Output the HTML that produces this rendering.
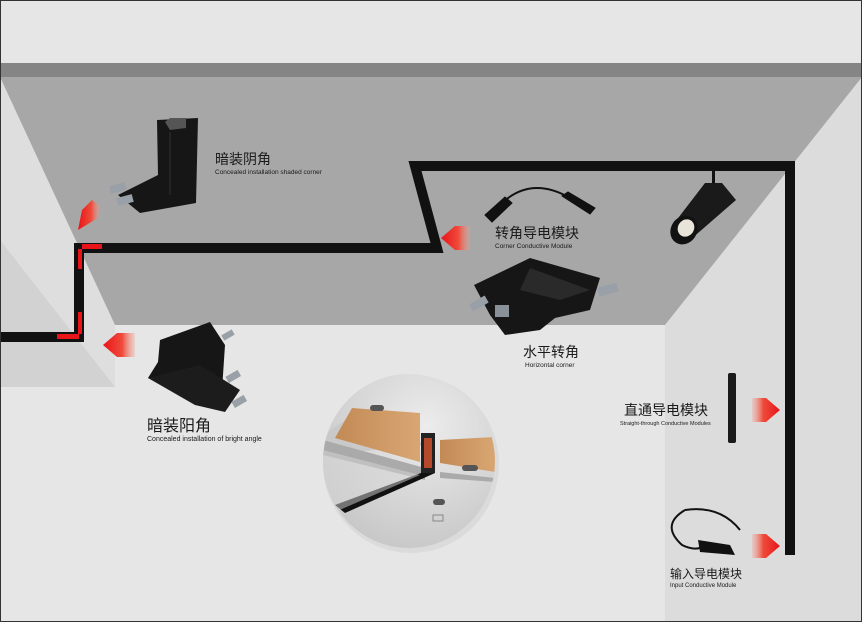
<!DOCTYPE html>
<html><head><meta charset="utf-8"><style>
html,body{margin:0;padding:0;background:#fff}
svg{display:block}
text{font-family:"Liberation Sans","Noto Sans CJK SC",sans-serif;fill:#1a1a1a}
</style></head><body>
<svg width="862" height="622" viewBox="0 0 862 622" xmlns="http://www.w3.org/2000/svg">
<defs>
<linearGradient id="ar" x1="0" x2="1"><stop offset="0" stop-color="#e8141a"/><stop offset="0.6" stop-color="#f04a3a"/><stop offset="1" stop-color="#f3a090" stop-opacity="0.3"/></linearGradient>
<linearGradient id="arR" x1="1" x2="0"><stop offset="0" stop-color="#e8141a"/><stop offset="0.6" stop-color="#f04a3a"/><stop offset="1" stop-color="#f3a090" stop-opacity="0.3"/></linearGradient>
<radialGradient id="cg" cx="0.6" cy="0.3" r="0.8"><stop offset="0" stop-color="#ececec"/><stop offset="1" stop-color="#c4c4c4"/></radialGradient>
<linearGradient id="wood" x1="0" x2="1"><stop offset="0" stop-color="#c28a55"/><stop offset="1" stop-color="#d9a673"/></linearGradient>
<clipPath id="cc"><ellipse cx="409" cy="461" rx="86" ry="87"/></clipPath>
</defs>
<rect width="862" height="622" fill="#e6e6e6"/>
<!-- right wall -->
<polygon points="665,325 862,77 862,622 665,622" fill="#dcdcdc"/>
<!-- left wall -->
<polygon points="0,77 115,325 115,387 0,387" fill="#dedede"/>
<polygon points="0,240 115,387 0,387" fill="#d2d2d2"/>
<!-- ceiling -->
<polygon points="0,77 862,77 665,325 115,325" fill="#a7a7a7"/>
<rect x="0" y="63" width="862" height="14" fill="#858586"/>
<!-- black track line -->
<polyline points="0,337 79,337 79,248 437,248 415,166 790,166 790,555" fill="none" stroke="#111" stroke-width="10" stroke-linejoin="miter"/>
<!-- red dashes -->
<g fill="#e8141a">
<rect x="82" y="244" width="20" height="5"/>
<rect x="78" y="249" width="4" height="20"/>
<rect x="78" y="312" width="4" height="22"/>
<rect x="57" y="334" width="22" height="5"/>
</g>
<!-- arrows -->
<polygon points="78,230 82,210 92,200 100,206 98,218" fill="url(#ar)"/>
<polygon points="441,238 455,226 470,226 470,250 455,250" fill="url(#ar)"/>
<polygon points="103,345 117,333 135,333 135,357 117,357" fill="url(#ar)"/>
<polygon points="780,410 766,398 752,398 752,422 766,422" fill="url(#arR)"/>
<polygon points="780,546 766,534 752,534 752,558 766,558" fill="url(#arR)"/>
<!-- concealed shaded corner product -->
<g>
<polygon points="157,120 198,118 196,203 140,213 118,195 158,175" fill="#161616"/>
<polygon points="165,122 170,118 186,118 186,128 170,130" fill="#555"/>
<rect x="110" y="184" width="16" height="8" fill="#9aa0a8" transform="rotate(-15 118 188)"/>
<rect x="117" y="196" width="16" height="8" fill="#9aa0a8" transform="rotate(-15 125 200)"/>
<line x1="170" y1="132" x2="170" y2="195" stroke="#333" stroke-width="1"/>
</g>
<text x="215" y="164" font-size="14">暗装阴角</text>
<text x="215" y="174" font-size="6.5" fill="#333">Concealed installation shaded corner</text>
<!-- corner conductive module -->
<g stroke="#111" fill="#111">
<path d="M500,205 Q530,175 570,198" fill="none" stroke-width="2"/>
<polygon points="485,215 505,197 512,203 492,222" />
<polygon points="562,196 568,192 595,208 590,214"/>
</g>
<text x="495" y="238" font-size="14">转角导电模块</text>
<text x="495" y="248" font-size="6.5" fill="#333">Corner Conductive Module</text>
<!-- spotlight -->
<g>
<rect x="712" y="170" width="3" height="14" fill="#111"/>
<polygon points="705,183 722,183 736,200 690,240 672,226" fill="#1a1a1a"/>
<ellipse cx="684" cy="230" rx="13" ry="15" fill="#111" transform="rotate(35 684 230)"/>
<ellipse cx="686" cy="228" rx="8" ry="9" fill="#e8e4da" transform="rotate(35 686 228)"/>
</g>
<!-- horizontal corner -->
<g>
<polygon points="474,285 530,258 600,278 590,310 555,318 540,330 505,335 490,315" fill="#161616"/>
<polygon points="530,268 590,290 560,300 520,290" fill="#2a2a2a"/>
<rect x="598" y="285" width="20" height="9" fill="#9aa0a8" transform="rotate(-15 608 290)"/>
<rect x="470" y="300" width="18" height="8" fill="#9aa0a8" transform="rotate(-30 478 304)"/>
<rect x="495" y="305" width="14" height="12" fill="#8a9098"/>
</g>
<text x="523" y="357" font-size="14">水平转角</text>
<text x="525" y="367" font-size="6.5" fill="#333">Horizontal corner</text>
<!-- concealed bright angle -->
<g>
<polygon points="160,340 210,322 225,345 222,390 200,405 180,390 148,378 158,362" fill="#161616"/>
<polygon points="148,378 200,365 240,390 225,412 195,405" fill="#1c1c1c"/>
<rect x="222" y="332" width="12" height="6" fill="#9aa0a8" transform="rotate(-30 228 335)"/>
<rect x="226" y="373" width="14" height="7" fill="#9aa0a8" transform="rotate(-30 233 376)"/>
<rect x="232" y="398" width="14" height="7" fill="#9aa0a8" transform="rotate(-30 239 401)"/>
</g>
<text x="147" y="431" font-size="16">暗装阳角</text>
<text x="147" y="441" font-size="7" fill="#333">Concealed installation of bright angle</text>
<!-- circle detail -->
<ellipse cx="411" cy="464" rx="88" ry="89" fill="#cfcfcf" opacity="0.5"/>
<ellipse cx="409" cy="461" rx="86" ry="87" fill="url(#cg)"/>
<g clip-path="url(#cc)">
<polygon points="323,435 360,410 425,445 325,455" fill="#c9c9c9"/>
<polygon points="352,408 420,413 420,462 335,438" fill="url(#wood)"/>
<polygon points="440,440 495,437 495,472 440,463" fill="url(#wood)"/>
<polygon points="323,440 425,468 425,480 323,455" fill="#aaa"/>
<polygon points="440,472 495,478 495,482 440,478" fill="#aaa"/>
<rect x="421" y="433" width="14" height="40" fill="#222"/>
<rect x="424" y="438" width="8" height="30" fill="#b44a2a"/>
<polygon points="421,473 435,473 345,513 335,505" fill="#111"/>
<polygon points="323,450 420,475 335,512 323,500" fill="#d6d6d6" opacity="0.5"/>
<rect x="370" y="405" width="14" height="6" rx="3" fill="#555"/>
<rect x="462" y="465" width="16" height="6" rx="3" fill="#555"/>
<rect x="433" y="499" width="12" height="6" rx="3" fill="#555"/>
<rect x="433" y="515" width="10" height="6" fill="none" stroke="#888" stroke-width="1"/>
</g>
<!-- straight-through module -->
<rect x="728" y="373" width="8" height="70" rx="2" fill="#1a1a1a"/>
<text x="624" y="415" font-size="14">直通导电模块</text>
<text x="620" y="425" font-size="5.5" fill="#333">Straight-through Conductive Modules</text>
<!-- input module -->
<path d="M685,510 Q660,525 682,545 Q692,550 700,548 M685,510 Q720,505 740,530" fill="none" stroke="#111" stroke-width="2"/>
<polygon points="698,540 730,545 735,555 700,552" fill="#111"/>
<text x="670" y="578" font-size="12">输入导电模块</text>
<text x="670" y="587" font-size="6" fill="#333">Input Conductive Module</text>
<rect x="0.5" y="0.5" width="861" height="621" fill="none" stroke="#333" stroke-width="1"/>
</svg>
</body></html>
